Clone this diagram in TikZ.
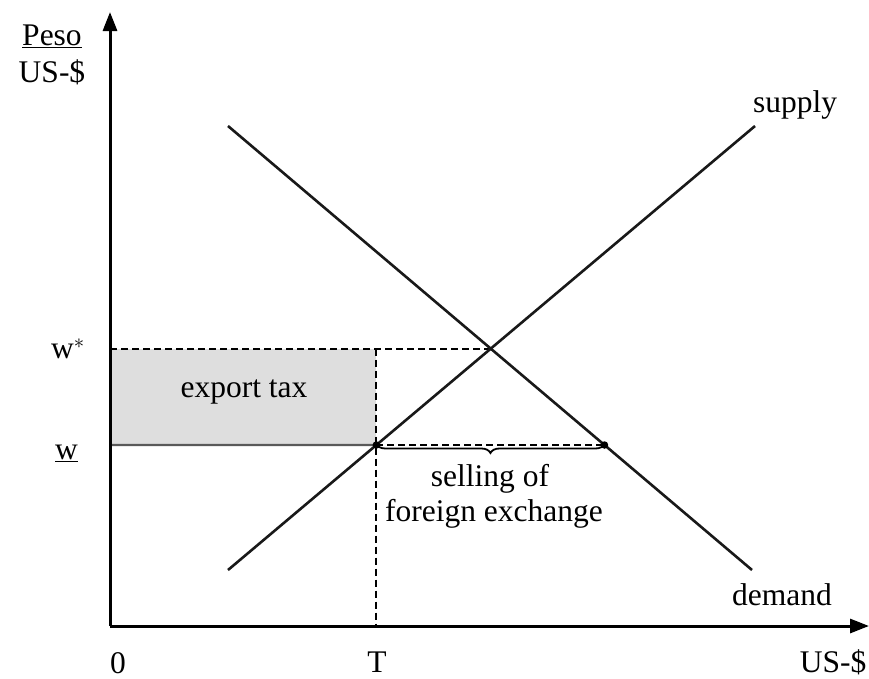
\documentclass[tikz,border=0pt]{standalone}
\usepackage{fontspec}
\setmainfont{Liberation Serif}
\usetikzlibrary{arrows.meta,decorations.pathreplacing}
\begin{document}
\begin{tikzpicture}[x=1pt,y=-1pt,
  lbl/.style={inner sep=0pt,font=\fontsize{31.5}{36}\selectfont},
  axis/.style={line width=3pt,-{Triangle[length=19pt,width=14pt]}},
  curve/.style={line width=2.6pt,black!90},
  dsh/.style={line width=2pt,dash pattern=on 7pt off 4pt},
  dot/.style={circle,fill=black,inner sep=0pt,minimum size=7.5pt}]
\useasboundingbox (0,0) rectangle (869,678);
% coordinates
\coordinate (O) at (110,626);
\coordinate (ytop) at (110,12);
\coordinate (xend) at (869,626);
\coordinate (s1) at (228,570);
\coordinate (s2) at (755,126);
\coordinate (d1) at (228,126);
\coordinate (d2) at (752,570);
\coordinate (wl) at (110,445);
\coordinate (wr) at (800,445);
\coordinate (E) at (intersection of s1--s2 and d1--d2);
\coordinate (wsl) at (O |- E);
\coordinate (A) at (intersection of s1--s2 and wl--wr);
\coordinate (B) at (intersection of d1--d2 and wl--wr);
\coordinate (Tw) at (A |- wsl);
\coordinate (Tb) at (A |- O);
% tax area
\fill[black!13] (wsl) rectangle (A);
\draw[line width=2.2pt,black!65] (wl) -- (A);
\draw[dsh] (wsl) -- (E);
\draw[dsh] (Tw) -- (Tb);
\draw[dsh] (A) -- (B);
% curves
\draw[curve] (s1) -- (s2);
\draw[curve] (d1) -- (d2);
% axes
\draw[axis] (O) -- (ytop);
\draw[axis] (O) -- (xend);
% dots
\node[dot] (dA) at (A) {};
\node[dot] (dB) at (B) {};
% brace
\draw[line width=1.8pt,decorate,decoration={brace,mirror,amplitude=9pt}] ([yshift=1pt]A) -- ([yshift=1pt]B);
% labels
\node[lbl] (peso) at (52,36) {\underline{Peso}};
\node[lbl] (usy) at (52,72) {US-\$};
\node[lbl] (supply) at (795,105) {supply};
\node[lbl] (demand) at (782,595) {demand};
\node[lbl] (usx) at (833,662) {US-\$};
\node[lbl] (zero) at (118,663) {0};
\node[lbl] (T) at (377,662) {T};
\node[lbl,anchor=base west] (wstar) at (51,358) {w$^{*}$};
\node[lbl,anchor=base west] (w) at (55,459) {\underline{w}};
\node[lbl] (tax) at (244,392) {export tax};
\node[lbl] (sell) at (490,479) {selling of};
\node[lbl] (fx) at (494,514) {foreign exchange};
\end{tikzpicture}
\end{document}
